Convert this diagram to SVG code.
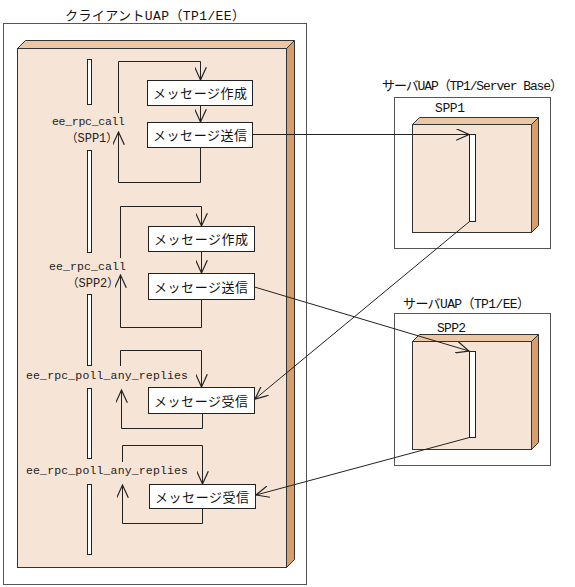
<svg xmlns="http://www.w3.org/2000/svg" width="575" height="587" viewBox="0 0 575 587">
<defs>
<marker id="arr" markerUnits="userSpaceOnUse" markerWidth="14" markerHeight="12" refX="11" refY="5" orient="auto" viewBox="0 0 12 10">
<path d="M0,0 L11,5 L0,10" fill="none" stroke="#222" stroke-width="1"/>
</marker>
<style>
.frame{fill:#fff;stroke:#555;stroke-width:1}
.front{fill:#F6E5D6;stroke:#333;stroke-width:1}
.top{fill:#EBC7A4;stroke:#333;stroke-width:1}
.side{fill:#D49E6E;stroke:#333;stroke-width:1}
.bar{fill:#fff;stroke:#222;stroke-width:1}
.box{fill:#fff;stroke:#222;stroke-width:1}
.ar{fill:none;stroke:#222;stroke-width:1;marker-end:url(#arr)}
.jt{font-family:"Noto Sans CJK JP","Noto Sans",sans-serif;font-size:13px;fill:#111}
.mono{font-family:"Liberation Mono","DejaVu Sans Mono","Noto Sans CJK JP",monospace;font-size:11.5px;fill:#222}
.cjk{font-family:"Noto Sans CJK JP",sans-serif}
.lat{font-family:"Liberation Mono",monospace;font-size:12px}
.ttl{font-family:"Liberation Mono","Noto Sans CJK JP",monospace;font-size:13px;fill:#111}
</style>
</defs>

<g id="client">
<rect class="frame" x="3.5" y="23.5" width="303" height="561"/>
<text class="ttl" x="65" y="20" textLength="180">クライアントUAP（TP1/EE）</text>
<polygon class="top" points="17.5,48.5 25.5,40.5 294.5,40.5 286.5,48.5"/>
<polygon class="side" points="286.5,48.5 294.5,40.5 294.5,559.5 286.5,567.5"/>
<rect class="front" x="17.5" y="48.5" width="269" height="519"/>
<rect class="bar" x="87.5" y="59.5" width="4" height="45"/>
<rect class="bar" x="87.5" y="150.5" width="4" height="102"/>
<rect class="bar" x="87.5" y="294.5" width="4" height="71"/>
<rect class="bar" x="87.5" y="388.5" width="4" height="70"/>
<rect class="bar" x="87.5" y="484.5" width="4" height="70"/>
<text class="mono" x="52" y="125" textLength="73">ee_rpc_call</text>
<text class="mono" x="66" y="142"><tspan class="cjk">（</tspan><tspan class="lat">SPP1</tspan><tspan class="cjk">）</tspan></text>
<text class="mono" x="49" y="270" textLength="77">ee_rpc_call</text>
<text class="mono" x="67" y="287"><tspan class="cjk">（</tspan><tspan class="lat">SPP2</tspan><tspan class="cjk">）</tspan></text>
<text class="mono" x="26" y="379" textLength="162">ee_rpc_poll_any_replies</text>
<text class="mono" x="26" y="474" textLength="162">ee_rpc_poll_any_replies</text>
</g>

<g id="create1"><rect class="box" x="147.5" y="80.5" width="105" height="25"/><text class="jt" x="200" y="98" text-anchor="middle" textLength="94">メッセージ作成</text></g>
<g id="send1"><rect class="box" x="147.5" y="122.5" width="105" height="25"/><text class="jt" x="200" y="140" text-anchor="middle" textLength="94">メッセージ送信</text></g>
<g id="create2"><rect class="box" x="148.5" y="226.5" width="106" height="25"/><text class="jt" x="201" y="244" text-anchor="middle" textLength="94">メッセージ作成</text></g>
<g id="send2"><rect class="box" x="148.5" y="273.5" width="106" height="26"/><text class="jt" x="201" y="292" text-anchor="middle" textLength="94">メッセージ送信</text></g>
<g id="recv1"><rect class="box" x="148.5" y="387.5" width="106" height="26"/><text class="jt" x="201" y="406" text-anchor="middle" textLength="94">メッセージ受信</text></g>
<g id="recv2"><rect class="box" x="149.5" y="484.5" width="106" height="24"/><text class="jt" x="202" y="502" text-anchor="middle" textLength="94">メッセージ受信</text></g>

<g id="server1">
<rect class="frame" x="394.5" y="97.5" width="156" height="151"/>
<text class="ttl" x="382" y="90" textLength="181">サーバUAP（TP1/Server Base）</text>
<polygon class="top" points="412.5,124.5 419.5,117.5 538.5,117.5 531.5,124.5"/>
<polygon class="side" points="531.5,124.5 538.5,117.5 538.5,225.5 531.5,232.5"/>
<rect class="front" x="412.5" y="124.5" width="119" height="108"/>
<rect class="bar" x="469.5" y="134.5" width="6" height="87"/>
<text class="ttl" x="435" y="112" textLength="30">SPP1</text>
</g>

<g id="server2">
<rect class="frame" x="394.5" y="313.5" width="156" height="152"/>
<text class="ttl" x="403" y="308" textLength="127">サーバUAP（TP1/EE）</text>
<polygon class="top" points="412.5,341.5 419.5,334.5 538.5,334.5 531.5,341.5"/>
<polygon class="side" points="531.5,341.5 538.5,334.5 538.5,442.5 531.5,449.5"/>
<rect class="front" x="412.5" y="341.5" width="119" height="108"/>
<rect class="bar" x="469.5" y="351.5" width="6" height="86"/>
<text class="ttl" x="437" y="332" textLength="29">SPP2</text>
</g>

<g id="connectors">
<path class="ar" d="M118.5,113 V61.5 H200.5 V80"/>
<path class="ar" d="M200.5,105.5 V122"/>
<path class="ar" d="M200.5,147.5 V182.5 H118.5 V132"/>
<path class="ar" d="M252.5,134.5 H469"/>

<path class="ar" d="M120.5,258 V206.5 H201.5 V226"/>
<path class="ar" d="M201.5,251.5 V273"/>
<path class="ar" d="M201.5,299.5 V327.5 H120.5 V275"/>
<path class="ar" d="M254.5,287 L469,351"/>

<path class="ar" d="M120.5,366 V350.5 H201.5 V387"/>
<path class="ar" d="M202.5,413.5 V428.5 H121.5 V390"/>
<path class="ar" d="M469.5,221.5 L255,399"/>

<path class="ar" d="M122.5,462 V445.5 H202.5 V484"/>
<path class="ar" d="M202.5,508.5 V523.5 H122.5 V485"/>
<path class="ar" d="M469.5,437.5 L256,495"/>
</g>
</svg>
